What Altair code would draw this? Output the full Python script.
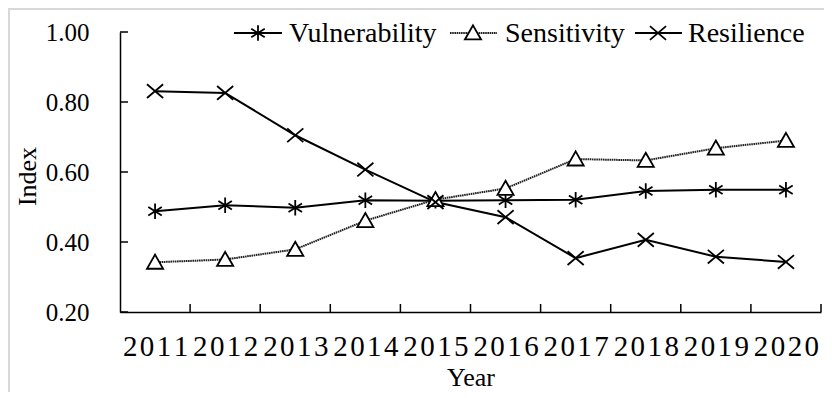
import altair as alt
import pandas as pd

# ---------------- data ----------------
years = [2011, 2012, 2013, 2014, 2015, 2016, 2017, 2018, 2019, 2020]
vulnerability = [0.488, 0.505, 0.498, 0.519, 0.518, 0.519, 0.521, 0.546, 0.549, 0.549]
sensitivity = [0.342, 0.350, 0.379, 0.461, 0.521, 0.553, 0.637, 0.633, 0.668, 0.690]
resilience = [0.831, 0.826, 0.705, 0.607, 0.514, 0.471, 0.354, 0.406, 0.358, 0.343]
series_names = ["Vulnerability", "Sensitivity", "Resilience"]
y_tick_values = [0.2, 0.4, 0.6, 0.8, 1.0]

# ---------------- layout / style ----------------
W, H = 701, 280
FONT = "Liberation Serif"
STAR = "M0,-1V1M-0.87,-0.55L0.87,0.55M-0.87,0.55L0.87,-0.55"
CROSS = "M-1,-0.85L1,0.85M-1,0.85L1,-0.85"
TRI = "M0,-0.95L1,0.8L-1,0.8Z"

styles = {
    "Vulnerability": dict(shape=STAR, size=240, fill=None, line=dict(color="black", strokeWidth=2)),
    "Sensitivity": dict(shape=TRI, size=260, fill="white", line=dict(color="#222222", strokeWidth=2, strokeDash=[1.6, 0.6])),
    "Resilience": dict(shape=CROSS, size=260, fill=None, line=dict(color="black", strokeWidth=2)),
}
# legend layout (pixels relative to plot origin): line start, line end, marker, text
legend_pos = {
    "Vulnerability": (114, 162, 138, 169),
    "Sensitivity": (330, 377, 353, 385),
    "Resilience": (515, 562, 538, 568),
}
legend_y = 1

values = {"Vulnerability": vulnerability, "Sensitivity": sensitivity, "Resilience": resilience}

xscale = alt.Scale(domain=[years[0] - 0.5, years[-1] + 0.5], nice=False, zero=False)
yscale = alt.Scale(domain=[0.2, 1.0], nice=False, zero=False)

layers = []

# axes carrier (invisible)
base_df = pd.DataFrame({"year": years, "v": vulnerability})
axes = alt.Chart(base_df).mark_point(opacity=0).encode(
    x=alt.X("year:Q", scale=xscale,
            axis=alt.Axis(values=years, format="d", ticks=False, tickSize=0, grid=False,
                          labelFont=FONT, labelFontSize=29, labelPadding=20, labelFlush=False,
                          labelExpr="join(split(datum.label, ''), '\u200a')",
                          title="Year", titleFont=FONT, titleFontSize=26, titleX=W / 2, titleY=65,
                          titleBaseline="middle", titleAlign="center")),
    y=alt.Y("v:Q", scale=yscale,
            axis=alt.Axis(values=y_tick_values, format=".2f", ticks=False, tickSize=0, grid=False,
                          labelFont=FONT, labelFontSize=25, labelPadding=31,
                          title="Index", titleFont=FONT, titleFontSize=26, titleX=-93, titleY=H / 2 + 4,
                          titleBaseline="middle", titleAlign="center", titleAngle=-90)),
)
layers.append(axes)

# inward tick marks
ytick_df = pd.DataFrame({"t": y_tick_values})
layers.append(alt.Chart(ytick_df).mark_rule(color="black", strokeWidth=1.5).encode(
    y=alt.Y("t:Q", scale=yscale), x=alt.value(0), x2=alt.value(8)))
xtick_df = pd.DataFrame({"b": [y + 0.5 for y in years]})
layers.append(alt.Chart(xtick_df).mark_rule(color="black", strokeWidth=1.5).encode(
    x=alt.X("b:Q", scale=xscale), y=alt.value(H), y2=alt.value(H - 8)))

# series lines then markers
for name in series_names:
    df = pd.DataFrame({"year": years, "v": values[name]})
    st = styles[name]
    layers.append(alt.Chart(df).mark_line(**st["line"]).encode(
        x=alt.X("year:Q", scale=xscale), y=alt.Y("v:Q", scale=yscale)))
for name in series_names:
    df = pd.DataFrame({"year": years, "v": values[name]})
    st = styles[name]
    pkw = dict(shape=st["shape"], size=st["size"], stroke="black", strokeWidth=1.8, opacity=1)
    if st["fill"]:
        pkw.update(filled=True, fill=st["fill"], fillOpacity=1)
    else:
        pkw.update(filled=False)
    layers.append(alt.Chart(df).mark_point(**pkw).encode(
        x=alt.X("year:Q", scale=xscale), y=alt.Y("v:Q", scale=yscale)))

# legend
for name in series_names:
    x0, x1, xm, xt = legend_pos[name]
    st = styles[name]
    ldf = pd.DataFrame({"s": [name]})
    layers.append(alt.Chart(ldf).mark_rule(**st["line"]).encode(
        x=alt.value(x0), x2=alt.value(x1), y=alt.value(legend_y)))
    pkw = dict(shape=st["shape"], size=st["size"], stroke="black", strokeWidth=1.8, opacity=1)
    if st["fill"]:
        pkw.update(filled=True, fill=st["fill"], fillOpacity=1)
    else:
        pkw.update(filled=False)
    layers.append(alt.Chart(ldf).mark_point(**pkw).encode(x=alt.value(xm), y=alt.value(legend_y)))
    layers.append(alt.Chart(ldf).mark_text(align="left", baseline="middle", font=FONT, fontSize=28,
                                           color="black", dy=1).encode(
        x=alt.value(xt), y=alt.value(legend_y), text="s:N"))

# light frame of the figure
frame_df = pd.DataFrame({"f": [1]})
layers.append(alt.Chart(frame_df).mark_rule(color="#d8d8d8", strokeWidth=2).encode(
    x=alt.value(-112), x2=alt.value(W + 10), y=alt.value(-23)))
layers.append(alt.Chart(frame_df).mark_rule(color="#d8d8d8", strokeWidth=2).encode(
    x=alt.value(-111), y=alt.value(-24), y2=alt.value(H + 90)))

chart = alt.layer(*layers).properties(
    width=W, height=H,
    padding={"left": 112, "top": 24, "right": 3, "bottom": 80},
    autosize=alt.AutoSizeParams(type="none"),
).configure_view(stroke=None).configure_axis(
    labelFont=FONT, titleFont=FONT, labelColor="black", titleColor="black",
    domainColor="black", domainWidth=1.5, titleFontWeight="normal",
)

chart.save("out.html", embed_options={"renderer": "svg", "actions": False})
